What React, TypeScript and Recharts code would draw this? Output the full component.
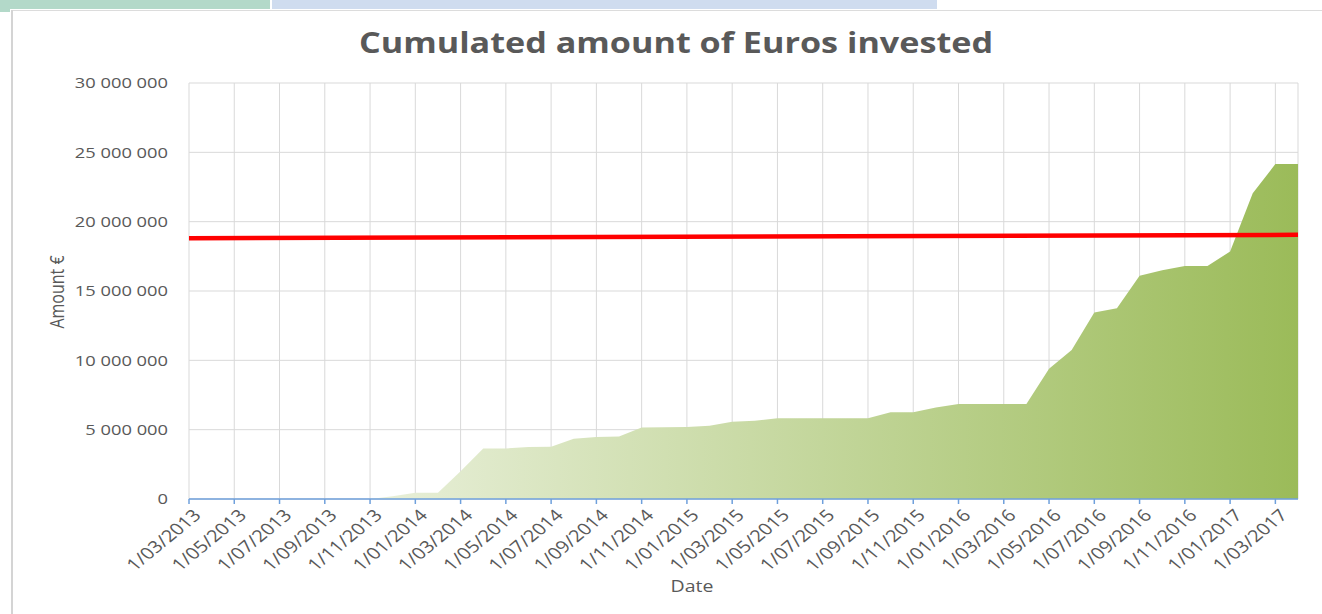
import React from 'react';
import { ComposedChart, Area, Line, XAxis, YAxis, CartesianGrid, Label } from 'recharts';

const months = [
  '1/03/2013', '1/04/2013', '1/05/2013', '1/06/2013', '1/07/2013', '1/08/2013', '1/09/2013', '1/10/2013', '1/11/2013', '1/12/2013',
  '1/01/2014', '1/02/2014', '1/03/2014', '1/04/2014', '1/05/2014', '1/06/2014', '1/07/2014', '1/08/2014', '1/09/2014', '1/10/2014', '1/11/2014', '1/12/2014',
  '1/01/2015', '1/02/2015', '1/03/2015', '1/04/2015', '1/05/2015', '1/06/2015', '1/07/2015', '1/08/2015', '1/09/2015', '1/10/2015', '1/11/2015', '1/12/2015',
  '1/01/2016', '1/02/2016', '1/03/2016', '1/04/2016', '1/05/2016', '1/06/2016', '1/07/2016', '1/08/2016', '1/09/2016', '1/10/2016', '1/11/2016', '1/12/2016',
  '1/01/2017', '1/02/2017', '1/03/2017', '1/04/2017',
];

const invested = [
  0, 0, 0, 0, 0, 0, 0, 0, 0, 200000,
  450000, 450000, 2000000, 3650000, 3650000, 3750000, 3770000, 4350000, 4480000, 4500000, 5150000, 5180000,
  5200000, 5280000, 5570000, 5650000, 5820000, 5820000, 5820000, 5820000, 5820000, 6250000, 6250000, 6600000,
  6850000, 6850000, 6850000, 6850000, 9400000, 10750000, 13450000, 13750000, 16100000, 16500000, 16800000, 16800000,
  17850000, 22050000, 24150000, 24150000,
];

const targetStart = 18800000;
const targetEnd = 19050000;

const yTicks = [0, 5000000, 10000000, 15000000, 20000000, 25000000, 30000000];

const data = months.map((m, i) => ({
  month: m,
  invested: invested[i],
  target: i === 0 ? targetStart : i === months.length - 1 ? targetEnd : null,
}));

const TEXT = '#595959';
const FONT = '"Open Sans", "DejaVu Sans", sans-serif';
const STRETCH = 1.22;

const fmt = (v: number) => String(v).replace(/\B(?=(\d{3})+(?!\d))/g, ' ');

const YTick = (props: any) => {
  const { x, y, payload } = props;
  return (
    <g transform={`translate(${x},${y})`}>
      <text textAnchor="end" dy="0.36em" transform={`scale(${STRETCH},1)`} fill={TEXT} fontSize={15} fontFamily={FONT}>
        {fmt(payload.value)}
      </text>
    </g>
  );
};

const XTick = (props: any) => {
  const { x, y, payload } = props;
  return (
    <g transform={`translate(${x + 3},${y})`}>
      <text textAnchor="end" dy="0.72em" transform={`scale(${STRETCH},1) rotate(-45)`} fill={TEXT} fontSize={16.5} fontFamily={FONT}>
        {payload.value}
      </text>
    </g>
  );
};

export default function App() {
  return (
    <div style={{ position: 'absolute', left: 0, top: 0, width: 1322, height: 614, background: '#fff', overflow: 'hidden' }}>
      <div style={{ position: 'absolute', left: 0, top: 0, width: 270, height: 9, background: '#b3d9c9' }} />
      <div style={{ position: 'absolute', left: 272, top: 0, width: 665, height: 9, background: '#cfdcef' }} />
      <div style={{ position: 'absolute', left: 0, top: 9, width: 10, height: 3, background: '#b3d9c9' }} />
      <div style={{ position: 'absolute', left: 12, top: 10, width: 1310, height: 1, background: '#dcdcdc' }} />
      <div style={{ position: 'absolute', left: 11, top: 10, width: 2, height: 604, background: '#d4d4d4' }} />
      <div style={{ position: 'absolute', left: 0, top: 0 }}>
        <ComposedChart width={1322} height={614} data={data} margin={{ top: 83, right: 24, left: 20, bottom: 25 }}>
          <defs>
            <linearGradient id="investGrad" x1="0" y1="0" x2="1" y2="0">
              <stop offset="0%" stopColor="#f8faf3" />
              <stop offset="100%" stopColor="#9bbb59" />
            </linearGradient>
          </defs>
          <CartesianGrid stroke="#d9d9d9" strokeWidth={1} />
          <XAxis
            dataKey="month"
            scale="point"
            padding={{ left: 0, right: 0 }}
            interval={1}
            height={90}
            stroke="#6fa0dc"
            axisLine={{ stroke: '#6fa0dc', strokeWidth: 1.5 }}
            tickLine={{ stroke: '#6fa0dc', strokeWidth: 1.5 }}
            tickSize={5}
            tickMargin={4}
            tick={XTick}
          >
            <Label
              content={() => (
                <text x={692} y={586} textAnchor="middle" dy="0.36em" fill={TEXT} fontSize={16} fontFamily={FONT}
                  transform={`translate(692,0) scale(${STRETCH},1) translate(-692,0)`}>
                  Date
                </text>
              )}
            />
          </XAxis>
          <YAxis
            domain={[0, 30000000]}
            ticks={yTicks}
            width={169}
            axisLine={false}
            tickLine={false}
            tickSize={6}
            tickMargin={15}
            tick={YTick}
            interval={0}
          >
            <Label
              content={() => (
                <text textAnchor="middle" dy="0.36em" fill={TEXT} fontSize={16} fontFamily={FONT}
                  transform={`translate(57,292) scale(${STRETCH},1) rotate(-90)`}>
                  Amount €
                </text>
              )}
            />
          </YAxis>
          <Area
            type="linear"
            dataKey="invested"
            stroke="none"
            fill="url(#investGrad)"
            fillOpacity={1}
            baseValue={0}
            isAnimationActive={false}
            dot={false}
            activeDot={false}
          />
          <Line
            type="linear"
            dataKey="target"
            stroke="#ff0000"
            strokeWidth={4.5}
            dot={false}
            activeDot={false}
            connectNulls
            isAnimationActive={false}
          />
        </ComposedChart>
      </div>
      <div
        style={{
          position: 'absolute',
          left: 676,
          top: 28,
          transform: `translateX(-50%) scaleX(${STRETCH})`,
          whiteSpace: 'nowrap',
          fontFamily: FONT,
          fontWeight: 700,
          fontSize: 28,
          lineHeight: '28px',
          color: TEXT,
        }}
      >
        Cumulated amount of Euros invested
      </div>
    </div>
  );
}
